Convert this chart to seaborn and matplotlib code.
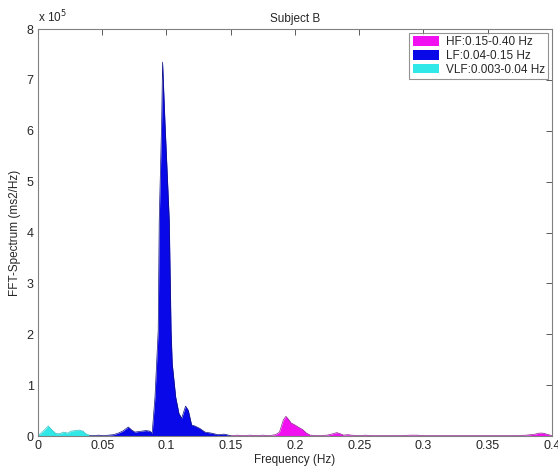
import matplotlib
matplotlib.use("Agg")
import matplotlib.pyplot as plt
import seaborn as sns
import pandas as pd
from matplotlib.patches import Patch

# spectrum values, in units of 1e5 ms2/Hz
vlf_freq = [0.0, 0.002, 0.005, 0.008, 0.011, 0.014, 0.017, 0.020, 0.023,
            0.026, 0.029, 0.032, 0.035, 0.037, 0.040]
vlf_pow = [0.02, 0.05, 0.12, 0.20, 0.12, 0.05, 0.05, 0.08, 0.06,
           0.10, 0.11, 0.12, 0.10, 0.05, 0.02]

lf_freq = [0.040, 0.043, 0.047, 0.051, 0.055, 0.059, 0.0625, 0.066, 0.0703,
           0.073, 0.0755, 0.078, 0.081, 0.084, 0.087, 0.0889, 0.0911, 0.0936,
           0.0944, 0.0963, 0.0970, 0.0988, 0.1022, 0.1036, 0.1045, 0.1072,
           0.1097, 0.1118, 0.1149, 0.1170, 0.1196, 0.1222, 0.1261, 0.130,
           0.135, 0.140, 0.145, 0.150]
lf_pow = [0.01, 0.01, 0.02, 0.01, 0.02, 0.03, 0.06, 0.10, 0.18,
          0.12, 0.08, 0.09, 0.10, 0.11, 0.10, 0.06, 0.77, 2.08,
          4.24, 6.2, 7.35, 6.2, 4.24, 2.08, 1.43, 0.77,
          0.45, 0.35, 0.59, 0.51, 0.22, 0.20, 0.15, 0.08,
          0.06, 0.03, 0.04, 0.01]

hf_freq = [0.150, 0.155, 0.160, 0.165, 0.170, 0.175, 0.180, 0.185, 0.188,
           0.191, 0.193, 0.195, 0.197, 0.200, 0.2025, 0.206, 0.209, 0.212,
           0.218, 0.225, 0.230, 0.2325, 0.235, 0.238, 0.241, 0.244, 0.250,
           0.255, 0.260, 0.270, 0.280, 0.290, 0.295, 0.300, 0.310, 0.320,
           0.330, 0.340, 0.350, 0.360, 0.370, 0.380, 0.387, 0.390, 0.393,
           0.396, 0.400]
hf_pow = [0.01, 0.02, 0.01, 0.02, 0.01, 0.02, 0.01, 0.03, 0.08,
          0.32, 0.39, 0.33, 0.26, 0.22, 0.18, 0.13, 0.06, 0.02,
          0.01, 0.02, 0.05, 0.07, 0.05, 0.02, 0.03, 0.02, 0.01,
          0.02, 0.01, 0.01, 0.01, 0.02, 0.02, 0.01, 0.01, 0.01,
          0.01, 0.01, 0.01, 0.01, 0.01, 0.02, 0.04, 0.06, 0.06,
          0.04, 0.01]

bands = [
    ("HF:0.15-0.40 Hz", hf_freq, hf_pow, "#f010f0", "#902090"),
    ("LF:0.04-0.15 Hz", lf_freq, lf_pow, "#0808e8", "#101080"),
    ("VLF:0.003-0.04 Hz", vlf_freq, vlf_pow, "#30e8e8", "#30c0c0"),
]

sns.set_style("white")
plt.rcParams["font.family"] = ["Liberation Sans", "DejaVu Sans"]

fig = plt.figure(figsize=(5.58, 4.68), dpi=100)
ax = fig.add_axes([0.068, 0.068, 0.921, 0.870])

handles = []
for label, f, p, col, edge in bands:
    df = pd.DataFrame({"freq": f, "power": [v * 1e5 for v in p]})
    ax.fill_between(df["freq"], 0, df["power"], color=col, linewidth=0)
    sns.lineplot(data=df, x="freq", y="power", ax=ax, color=edge,
                 linewidth=0.5, estimator=None, sort=False)
    handles.append(Patch(facecolor=col, edgecolor="none", label=label))

ax.set_xlim(0, 0.4)
ax.set_ylim(0, 8e5)
ax.set_xticks([0, 0.05, 0.1, 0.15, 0.2, 0.25, 0.3, 0.35, 0.4])
ax.set_xticklabels(["0", "0.05", "0.1", "0.15", "0.2", "0.25", "0.3", "0.35", "0.4"])
ax.set_yticks([i * 1e5 for i in range(9)])
ax.set_yticklabels([str(i) for i in range(9)])
ax.tick_params(direction="in", top=True, right=True, length=4, width=0.6,
               color="#404040", labelsize=9, pad=3)
for s in ax.spines.values():
    s.set_color("#808080")
    s.set_linewidth(0.8)

ax.set_xlabel("Frequency (Hz)", fontsize=8.5, labelpad=1)
ax.set_ylabel("FFT-Spectrum (ms2/Hz)", fontsize=8.5, labelpad=4)
ax.set_title("Subject B", fontsize=8.5, pad=5)
ax.text(0.0, 1.008, r"x 10$^5$", transform=ax.transAxes, fontsize=8.5,
        ha="left", va="bottom")

leg = ax.legend(handles=handles, loc="upper right", fontsize=8.5,
                frameon=True, fancybox=False, borderaxespad=0.3,
                handlelength=2.2, handleheight=0.9, handletextpad=0.6,
                labelspacing=0.15, borderpad=0.3)
leg.get_frame().set_edgecolor("#777777")
leg.get_frame().set_linewidth(0.8)

fig.savefig("out.png", dpi=100)
